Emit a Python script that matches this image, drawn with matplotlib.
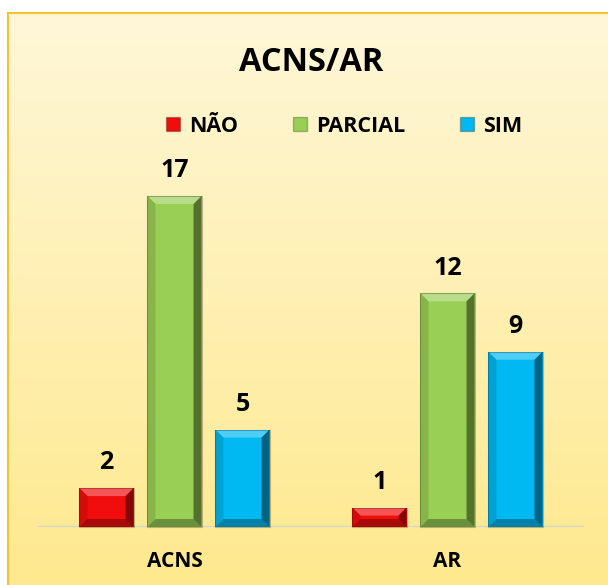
import matplotlib
matplotlib.use("Agg")
import matplotlib.pyplot as plt
import numpy as np
from matplotlib.patches import Rectangle, Polygon
from matplotlib.transforms import IdentityTransform
from matplotlib.colors import LinearSegmentedColormap

categories = ["ACNS", "AR"]
series_names = ["NÃO", "PARCIAL", "SIM"]
nao = [2, 1]
parcial = [17, 12]
sim = [5, 9]
title = "ACNS/AR"

colors = ["#F20D0D", "#9ACF55", "#00B9F2"]
FONT = ["Open Sans", "DejaVu Sans"]
plt.rcParams['font.family'] = FONT
plt.rcParams['font.weight'] = "bold"

W, H = 608, 585
fig = plt.figure(figsize=(W / 100, H / 100), dpi=100, facecolor="white")

# background panel with vertical gradient
bg = fig.add_axes([8 / W, 0, 1 - 8 / W, 1 - 13 / H], zorder=-10)
grad = np.linspace(0, 1, 256).reshape(-1, 1)
cmap = LinearSegmentedColormap.from_list("bg", ["#FFF7D8", "#FEE98E"])
bg.imshow(grad, aspect="auto", cmap=cmap, extent=[0, 1, 0, 1], origin="upper")
bg.set_xlim(0, 1); bg.set_ylim(0, 1)
bg.set_xticks([]); bg.set_yticks([])
for s in ["left", "top"]:
    bg.spines[s].set_color("#F2C233")
    bg.spines[s].set_linewidth(1.5)
for s in ["right", "bottom"]:
    bg.spines[s].set_visible(False)

ax = fig.add_axes([38 / W, 58 / H, 546 / W, 350.5 / H])
ax.set_facecolor("none")
ax.set_xlim(-0.5, 1.5)
ax.set_ylim(0, 18)
for s in ax.spines.values():
    s.set_visible(False)
ax.axhline(0, color="#D5D5D0", lw=1.6, zorder=1)
ax.set_xticks([]); ax.set_yticks([])

x = np.arange(len(categories))
width = 0.198
offset = 0.249
all_series = [nao, parcial, sim]
bar_groups = []
for i, (vals, c, name) in enumerate(zip(all_series, colors, series_names)):
    bars = ax.bar(x + (i - 1) * offset, vals, width, color=c, zorder=2, label=name)
    bar_groups.append(bars)
    for xi, v in zip(x + (i - 1) * offset, vals):
        ax.annotate(str(v), (xi, v), xytext=(0, 13.5), textcoords="offset points",
                    ha="center", va="baseline", fontsize=18, fontweight="bold",
                    color="black")

for xi, cat in zip(x, categories):
    ax.annotate(cat, (xi, 0), xytext=(0, -29), textcoords="offset points",
                ha="center", va="baseline", fontsize=15, fontweight="bold")

fig.canvas.draw()
# bevel overlays derived from the bars' drawn geometry
for bars in bar_groups:
    for p in bars.patches:
        bb = p.get_window_extent()
        x0, y0, x1, y1 = bb.x0, bb.y0, bb.x1, bb.y1
        b = min(8, (y1 - y0) / 2, (x1 - x0) / 2)
        faces = [
            ([(x0, y1), (x1, y1), (x1 - b, y1 - b), (x0 + b, y1 - b)], "white", 0.30),
            ([(x0, y0), (x1, y0), (x1 - b, y0 + b), (x0 + b, y0 + b)], "black", 0.30),
            ([(x0, y0), (x0 + b, y0 + b), (x0 + b, y1 - b), (x0, y1)], "black", 0.12),
            ([(x1, y0), (x1 - b, y0 + b), (x1 - b, y1 - b), (x1, y1)], "black", 0.45),
        ]
        for pts, col, a in faces:
            fig.patches.append(Polygon(pts, closed=True, transform=IdentityTransform(),
                                       facecolor=col, alpha=a, edgecolor="none", zorder=3))
        fig.patches.append(Rectangle((x0, y0), x1 - x0, y1 - y0, transform=IdentityTransform(),
                                     facecolor="none", edgecolor="black", alpha=0.25,
                                     lw=0.8, zorder=4))

fig.text(311 / W, 1 - 71 / H, title, ha="center", va="baseline", fontsize=23.5,
         fontweight="bold")

handles = [Rectangle((0, 0), 1, 1, facecolor=c, edgecolor="#00000040") for c in colors]
leg = fig.legend(handles, series_names, loc="center", bbox_to_anchor=(344.5 / W, 1 - 126 / H),
                 ncol=3, frameon=False, prop={"weight": "bold", "size": 15.5},
                 handlelength=0.62, handleheight=0.62, handletextpad=0.45,
                 columnspacing=2.55, borderpad=0)

fig.savefig("out.png", dpi=100, facecolor="white")
